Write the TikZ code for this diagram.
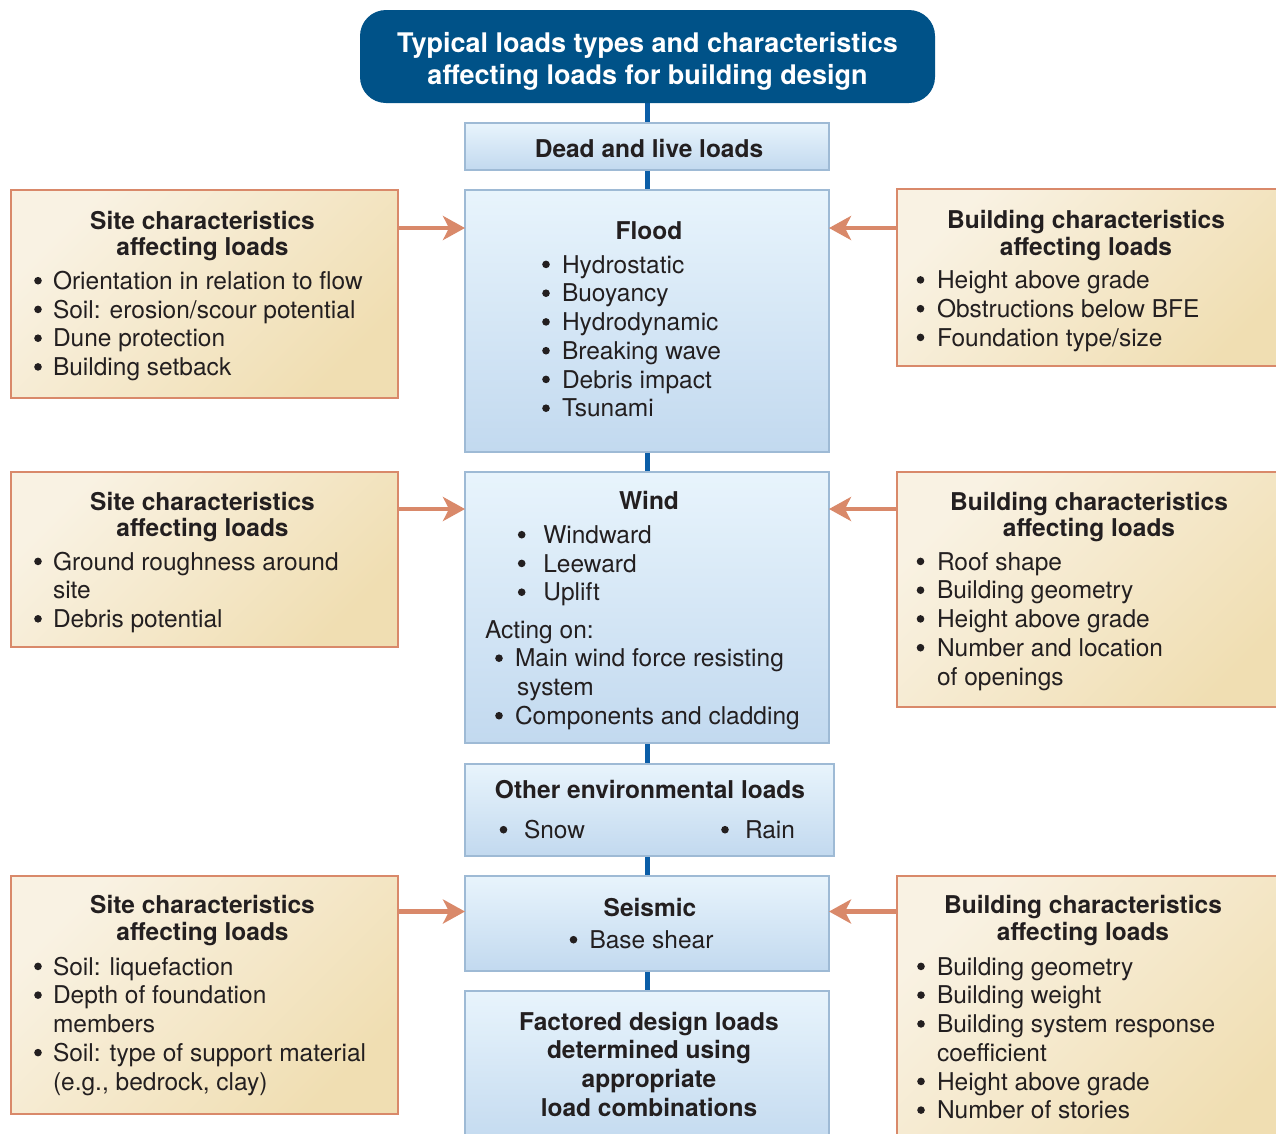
\documentclass[tikz,border=0pt]{standalone}
\usepackage{fontspec}
\setmainfont{TeX Gyre Heros}
\usetikzlibrary{arrows.meta,fit,backgrounds}
\definecolor{titleblue}{HTML}{005288}
\definecolor{lineblue}{HTML}{0B5EA8}
\definecolor{bluetop}{HTML}{E8F4FC}
\definecolor{bluebot}{HTML}{C2D9EF}
\definecolor{blueedge}{HTML}{9EBAD5}
\definecolor{beigetl}{HTML}{F9F2E3}
\definecolor{beigebr}{HTML}{F0DEB2}
\definecolor{orangeedge}{HTML}{D9896A}
\definecolor{textc}{HTML}{231F20}
\tikzset{
 bluebox/.style={draw=blueedge, line width=2.2pt, top color=bluetop, bottom color=bluebot, inner sep=0pt, outer sep=0pt},
 beigebox/.style={draw=orangeedge, line width=2.5pt, top color=beigetl, bottom color=beigebr, shading angle=45, inner sep=0pt, outer sep=0pt},
 titlebox/.style={fill=titleblue, rounded corners=26pt, inner sep=0pt, outer sep=0pt},
 txt/.style={inner sep=0pt, outer sep=0pt, text=textc, font=\fontsize{24.5}{29}\selectfont},
 hd/.style={inner sep=0pt, outer sep=0pt, text=textc, font=\fontsize{24.5}{29}\selectfont\bfseries},
 ttl/.style={inner sep=0pt, outer sep=0pt, text=white, font=\fontsize{27}{32}\selectfont\bfseries},
 dot/.style={circle, fill=textc, inner sep=0pt, outer sep=0pt, minimum size=7.6pt},
 feed/.style={draw=orangeedge, line width=4.5pt, -{Stealth[length=22pt,width=24pt,inset=6pt]}},
 spine/.style={draw=lineblue, line width=5pt},
}
% heading line centred at x
\newcommand\hdline[4]{\node[hd,anchor=base] (#1) at (#2,#3) {#4};}
% plain line starting at x
\newcommand\txtline[4]{\node[txt,anchor=base west] (#1) at (#2,#3) {#4};}
% bullet line: name, bullet x, text x, baseline, text
\newcommand\bulline[5]{\node[dot] (#1b) at (#2,#4-8.6) {};\node[txt,anchor=base west] (#1) at (#3,#4) {#5};}
\begin{document}
\begin{tikzpicture}[x=1pt,y=-1pt]
\useasboundingbox (0,0) rectangle (1276,1133);
\clip (0,0) rectangle (1276,1133);

% boxes
\node[titlebox, fit={(360,10)(935,103)}] (title) {};
\node[bluebox, fit={(465,123)(829,170)}] (dead) {};
\node[bluebox, fit={(465,190)(829,452)}] (flood) {};
\node[bluebox, fit={(465,472)(829,743)}] (wind) {};
\node[bluebox, fit={(465,764)(834,856)}] (other) {};
\node[bluebox, fit={(465,876)(829,971)}] (seismic) {};
\node[bluebox, fit={(465,991)(829,1150)}] (factored) {};
\node[beigebox, fit={(11,190)(398,398)}] (site1) {};
\node[beigebox, fit={(11,472)(398,647)}] (site2) {};
\node[beigebox, fit={(11,876)(398,1114)}] (site3) {};
\node[beigebox, fit={(897,189)(1295,366)}] (bld1) {};
\node[beigebox, fit={(897,472)(1295,707)}] (bld2) {};
\node[beigebox, fit={(897,876)(1295,1150)}] (bld3) {};

% spine
\begin{scope}[on background layer]
\draw[spine] (title.south) -- (title.south |- dead.north);
\draw[spine] (dead.south) -- (flood.north);
\draw[spine] (flood.south) -- (wind.north);
\draw[spine] (wind.south) -- (wind.south |- other.north);
\draw[spine] (other.south -| seismic.north) -- (seismic.north);
\draw[spine] (seismic.south) -- (factored.north);
\end{scope}

% feed arrows
\coordinate (r1) at (0,228);
\coordinate (r2) at (0,509);
\coordinate (r3) at (0,911.5);
\draw[feed] (site1.east |- r1) -- (flood.west |- r1);
\draw[feed] (bld1.west |- r1) -- (flood.east |- r1);
\draw[feed] (site2.east |- r2) -- (wind.west |- r2);
\draw[feed] (bld2.west |- r2) -- (wind.east |- r2);
\draw[feed] (site3.east |- r3) -- (seismic.west |- r3);
\draw[feed] (bld3.west |- r3) -- (seismic.east |- r3);

% title
\node[ttl,anchor=base] (tt1) at (647.5,52) {Typical loads types and characteristics};
\node[ttl,anchor=base] (tt2) at (647.5,84) {affecting loads for building design};

% dead
\hdline{dl}{649}{157.5}{Dead and live loads}

% flood
\hdline{fl}{649}{239.3}{Flood}
\bulline{f1}{546}{562}{273}{Hydrostatic}
\bulline{f2}{546}{562}{301.8}{Buoyancy}
\bulline{f3}{546}{562}{330.5}{Hydrodynamic}
\bulline{f4}{546}{562}{359.3}{Breaking wave}
\bulline{f5}{546}{562}{388}{Debris impact}
\bulline{f6}{546}{562}{416.8}{Tsunami}

% site 1
\hdline{sa1}{202.5}{229}{Site characteristics}
\hdline{sa2}{202.5}{255.5}{affecting loads}
\bulline{s11}{38}{53}{289.3}{Orientation in relation to flow}
\bulline{s12}{38}{53}{318}{Soil: erosion/scour potential}
\bulline{s13}{38}{53}{346.8}{Dune protection}
\bulline{s14}{38}{53}{375.5}{Building setback}

% building 1
\hdline{ba1}{1086}{228.5}{Building characteristics}
\hdline{ba2}{1086}{255}{affecting loads}
\bulline{b11}{920.5}{937}{288.5}{Height above grade}
\bulline{b12}{920.5}{937}{317.3}{Obstructions below BFE}
\bulline{b13}{920.5}{937}{346}{Foundation type/size}

% wind
\hdline{wd}{649}{509.3}{Wind}
\bulline{w1}{521.7}{543.3}{543.3}{Windward}
\bulline{w2}{521.7}{543.3}{572}{Leeward}
\bulline{w3}{521.7}{543.3}{600.8}{Uplift}
\txtline{ac}{485}{638.3}{Acting on:}
\bulline{w4}{499}{515}{666.8}{Main wind force resisting}
\txtline{w4c}{517}{695.5}{system}
\bulline{w5}{499}{515}{724.3}{Components and cladding}

% site 2
\hdline{sb1}{202.5}{510}{Site characteristics}
\hdline{sb2}{202.5}{536.5}{affecting loads}
\bulline{s21}{38}{53}{570}{Ground roughness around}
\txtline{s21c}{53}{598.7}{site}
\bulline{s22}{38}{53}{627.4}{Debris potential}

% building 2
\hdline{bb1}{1089}{510}{Building characteristics}
\hdline{bb2}{1089}{536.5}{affecting loads}
\bulline{b21}{920.5}{937}{570}{Roof shape}
\bulline{b22}{920.5}{937}{598.8}{Building geometry}
\bulline{b23}{920.5}{937}{627.5}{Height above grade}
\bulline{b24}{920.5}{937}{656.3}{Number and location}
\txtline{b24c}{937}{685}{of openings}

% other environmental
\hdline{oe}{650}{798.3}{Other environmental loads}
\bulline{o1}{503.5}{524}{838.3}{Snow}
\bulline{o2}{725}{745}{838.3}{Rain}

% seismic
\hdline{se}{650}{916.7}{Seismic}
\bulline{se1}{573.5}{589.5}{948.3}{Base shear}

% site 3
\hdline{sc1}{202.5}{913.3}{Site characteristics}
\hdline{sc2}{202.5}{940}{affecting loads}
\bulline{s31}{38}{53}{975}{Soil: liquefaction}
\bulline{s32}{38}{53}{1003.7}{Depth of foundation}
\txtline{s32c}{53}{1032.5}{members}
\bulline{s33}{38}{53}{1061.2}{Soil: type of support material}
\txtline{s33c}{53}{1090}{(e.g., bedrock, clay)}

% building 3
\hdline{bc1}{1083}{913.3}{Building characteristics}
\hdline{bc2}{1083}{940}{affecting loads}
\bulline{b31}{921}{937}{975}{Building geometry}
\bulline{b32}{921}{937}{1003.7}{Building weight}
\bulline{b33}{921}{937}{1032.5}{Building system response}
\txtline{b33c}{937}{1061.2}{coefficient}
\bulline{b34}{921}{937}{1090}{Height above grade}
\bulline{b35}{921}{937}{1118.7}{Number of stories}

% factored
\hdline{fa1}{649}{1030}{Factored design loads}
\hdline{fa2}{649}{1058.7}{determined using}
\hdline{fa3}{649}{1087.3}{appropriate}
\hdline{fa4}{649}{1116}{load combinations}
\end{tikzpicture}
\end{document}
